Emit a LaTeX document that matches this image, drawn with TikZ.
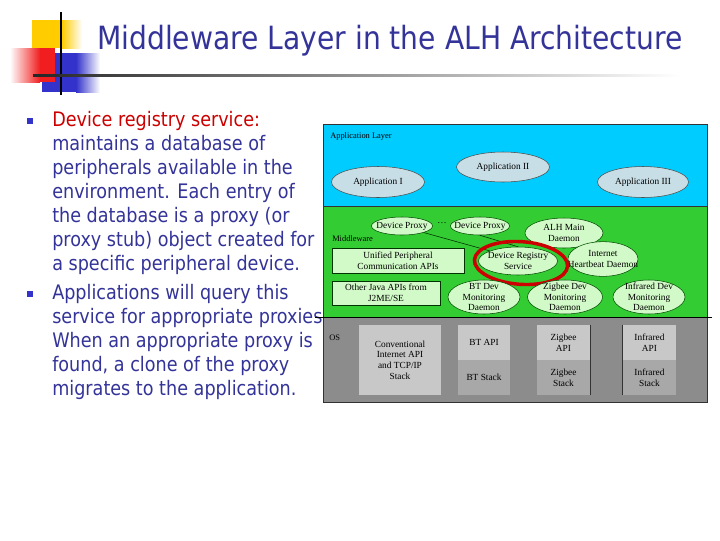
\documentclass[tikz,border=0pt]{standalone}
\usepackage{fontspec}
\setmainfont{DejaVu Sans}
\newfontfamily\slidefont[FakeStretch=0.88]{DejaVu Sans}
\newfontfamily\figfont{Liberation Serif}
\usetikzlibrary{shapes.geometric,positioning}

\definecolor{titleblue}{RGB}{51,51,153}
\definecolor{keyred}{RGB}{204,0,0}
\definecolor{bulletblue}{RGB}{51,51,204}
\definecolor{sqyellow}{RGB}{255,204,0}
\definecolor{sqred}{RGB}{240,30,30}
\definecolor{sqblue}{RGB}{51,51,204}
\definecolor{appblue}{RGB}{0,204,255}
\definecolor{midgreen}{RGB}{51,204,51}
\definecolor{osgray}{RGB}{140,140,140}
\definecolor{appgray}{RGB}{200,222,230}
\definecolor{midlight}{RGB}{210,250,200}
\definecolor{oslight}{RGB}{200,200,200}
\definecolor{osdark}{RGB}{168,168,168}

\tikzset{
  bodyline/.style={anchor=base west, inner sep=0pt, text=titleblue,
    font=\slidefont\fontsize{15}{18}\selectfont},
  bulletsq/.style={fill=bulletblue, minimum size=4.5pt, inner sep=0pt},
  layerlbl/.style={anchor=west, inner sep=0pt, font=\figfont\fontsize{6.3}{7}\selectfont},
  appell/.style={ellipse, draw=black!70, fill=appgray, inner sep=0pt},
  midell/.style={ellipse, draw=green!30!black, fill=midlight, inner sep=0pt},
  midbox/.style={draw=green!20!black, fill=midlight, inner sep=0pt, align=center,
    font=\figfont\fontsize{7}{8}\selectfont},
  osbox/.style={fill=oslight, inner sep=0pt, align=center,
    font=\figfont\fontsize{7}{8}\selectfont},
  osstack/.style={osbox, fill=osdark},
  link/.style={draw=green!15!black, thin},
  every label/.style={align=center, inner sep=0pt,
    font=\figfont\fontsize{7}{7.8}\selectfont}
}

\begin{document}
\begin{tikzpicture}[x=0.75pt,y=-0.75pt]
\useasboundingbox (0,0) rectangle (720,540);

% title decoration
\fill[sqyellow] (32,20) rectangle (62,48);
\shade[left color=sqyellow, right color=white] (62,20) rectangle (82,48);
\fill[sqblue] (42,53) rectangle (76,92);
\shade[left color=sqblue, right color=white] (76,53) rectangle (100,92);
\shade[left color=white, right color=sqred] (10,48) rectangle (40,82);
\fill[sqred] (40,48) rectangle (55,82);
\draw[black, line width=1.5pt] (61,12) -- (61,95);
\shade[left color=black!85, right color=white] (33,74) rectangle (680,76.5);
\node[anchor=base west, inner sep=0pt, text=titleblue,
  font=\slidefont\fontsize{24}{28}\selectfont] (title) at (97,49)
  {Middleware Layer in the ALH Architecture};

% bullet text
\node[bulletsq] (bul1) at (29.5,121) {};
\node[bulletsq] (bul2) at (29.5,294) {};
\node[bodyline, text=keyred] (line126) at (52,126) {Device registry service:};
\foreach \ly/\ltext in {150/maintains a database of, 174/peripherals available in the,
  198/environment. Each entry of, 222/the database is a proxy (or,
  246/proxy stub) object created for, 270/a specific peripheral device.,
  299/Applications will query this, 323/service for appropriate proxies,
  347/When an appropriate proxy is, 371/{found, a clone of the proxy},
  395/migrates to the application.}
  \node[bodyline] (line\ly) at (52,\ly) {\ltext};

% layers
\fill[appblue] (323,124) rectangle (707,206);
\fill[midgreen] (323,206) rectangle (707,317);
\fill[osgray] (323,317) rectangle (707,402);
\draw[black!80] (323,206) -- (707,206);
\draw[black!80, thin] (323,124) rectangle (707,402);
\coordinate (osleft) at (315,317);
\coordinate (osright) at (712,317);
\draw[black] (osleft) -- (osright);

\node[layerlbl] (applbl) at (330,136) {Application Layer};
\node[layerlbl] (midlbl) at (332,239) {Middleware};
\node[layerlbl] (oslbl) at (329,338) {OS};

% application layer
\node[appell, minimum width=69.75pt, minimum height=23.25pt, label={center:Application I}] (app1) at (378,182) {};
\node[appell, minimum width=69.75pt, minimum height=22.5pt, label={center:Application II}] (app2) at (503,167) {};
\node[appell, minimum width=68.25pt, minimum height=23.25pt, label={center:Application III}] (app3) at (643,182) {};

% middleware
\node[midell, minimum width=45.75pt, minimum height=13.5pt, label={center:Device Proxy}] (dp1) at (402,226) {};
\node[midell, minimum width=44.25pt, minimum height=13.5pt, label={center:Device Proxy}] (dp2) at (480,226) {};
\node[inner sep=0pt, font=\figfont\fontsize{7}{7}\selectfont] (dots) at (442,223) {\dots};
\node[midell, minimum width=58.5pt, minimum height=22.5pt, label={center:{ALH Main\\Daemon}}] (alh) at (564,233) {};
\node[midell, minimum width=52.5pt, minimum height=26pt, label={center:{Internet\\Heartbeat Daemon}}] (ihd) at (603,259) {};
\node[midell, minimum width=59.25pt, minimum height=21pt, label={center:{Device Registry\\Service}}] (drs) at (518,261) {};
\draw[link] (dp1.south east) -- (drs.north west);
\draw[link] (dp2.south) -- (drs.north);
\node[ellipse, draw=red!80!black, line width=2.6pt, minimum width=70pt, minimum height=32pt, rotate=-4] (ring) at (521,263) {};
\node[midbox, minimum width=99pt, minimum height=18.75pt] (upca) at (398,260.5) {Unified Peripheral\\Communication APIs};
\node[midbox, minimum width=81pt, minimum height=18pt] (ojapi) at (386,293) {Other Java APIs from\\J2ME/SE};
\node[midell, minimum width=54pt, minimum height=25.5pt, label={center:{BT Dev\\Monitoring\\Daemon}}] (btm) at (484,297) {};
\node[midell, minimum width=56.25pt, minimum height=25.5pt, label={center:{Zigbee Dev\\Monitoring\\Daemon}}] (zbm) at (565,297) {};
\node[midell, minimum width=54pt, minimum height=25.5pt, label={center:{Infrared Dev\\Monitoring\\Daemon}}] (irm) at (649,297) {};

% os layer
\node[osbox, minimum width=61.5pt, minimum height=52.5pt] (conv) at (400,360) {Conventional\\Internet API\\and TCP/IP\\Stack};
\node[osbox, minimum width=39pt, minimum height=26.25pt] (btapi) at (484,342.5) {BT API};
\node[osstack, minimum width=39pt, minimum height=26.25pt] (btstk) at (484,377.5) {BT Stack};
\node[osbox, minimum width=39.75pt, minimum height=26.25pt] (zbapi) at (563.5,342.5) {Zigbee\\API};
\node[osstack, minimum width=39.75pt, minimum height=26.25pt] (zbstk) at (563.5,377.5) {Zigbee\\Stack};
\node[osbox, minimum width=39.75pt, minimum height=26.25pt] (irapi) at (649.5,342.5) {Infrared\\API};
\node[osstack, minimum width=39.75pt, minimum height=26.25pt] (irstk) at (649.5,377.5) {Infrared\\Stack};
\draw[black!80] (zbapi.north east) -- (zbstk.south east);
\draw[black!80] (irapi.north west) -- (irstk.south west);
\end{tikzpicture}
\end{document}
